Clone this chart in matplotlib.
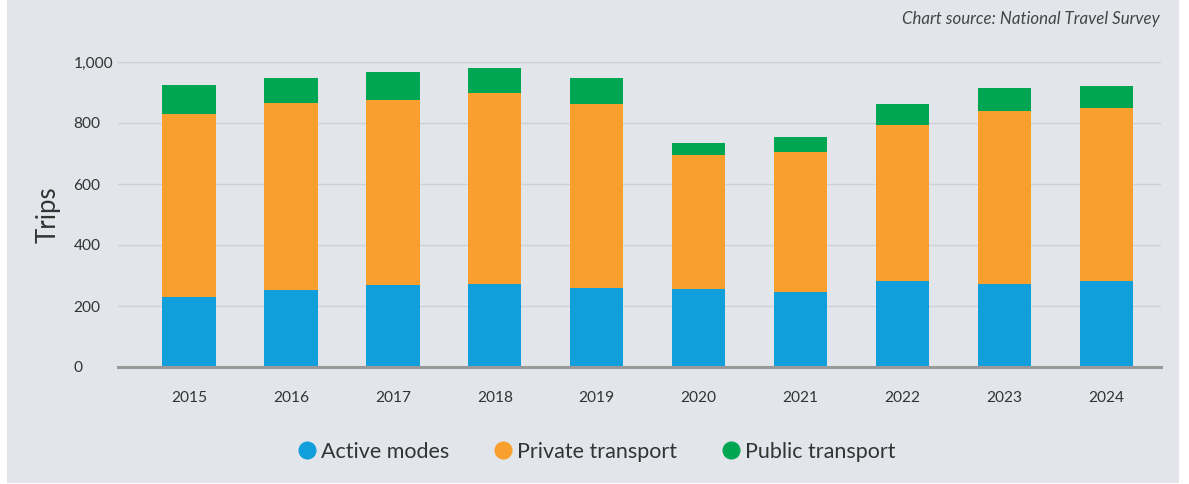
import matplotlib.pyplot as plt
from matplotlib.patches import Rectangle
from matplotlib.lines import Line2D

plt.rcParams['font.family'] = ['Lato', 'DejaVu Sans']

years = ['2015', '2016', '2017', '2018', '2019', '2020', '2021', '2022', '2023', '2024']
active = [230, 254, 269, 272, 260, 256, 246, 283, 272, 283]
private = [600, 612, 607, 627, 603, 440, 460, 511, 568, 567]
public = [95, 82, 92, 82, 85, 39, 49, 69, 76, 72]

series = ['Active modes', 'Private transport', 'Public transport']
colors = ['#109fdb', '#f89f2d', '#00a651']
bg = '#e2e6ea'
text_col = '#333333'

W, H = 1189, 484
fig = plt.figure(figsize=(W / 100, H / 100), dpi=100, facecolor='white')
fig.patches.append(Rectangle((7 / W, 1 / H), (1179 - 7) / W, 1 - 1 / H,
                             transform=fig.transFigure, facecolor=bg,
                             edgecolor='none', zorder=-10))

ax = fig.add_axes([118 / W, (H - 367) / H, (1161 - 118) / W, (367 - 62) / H])
ax.set_zorder(1)
ax.patch.set_alpha(0)

x = list(range(len(years)))
bottom2 = [a + p for a, p in zip(active, private)]
ax.bar(x, active, width=0.524, color=colors[0], zorder=3)
ax.bar(x, private, width=0.524, bottom=active, color=colors[1], zorder=3)
ax.bar(x, public, width=0.524, bottom=bottom2, color=colors[2], zorder=3)

ax.set_xlim(-0.697, 9.537)
ax.set_ylim(0, 1000)
ax.set_yticks([0, 200, 400, 600, 800, 1000])
ax.set_yticklabels(['0', '200', '400', '600', '800', '1,000'])
ax.set_xticks(x)
ax.set_xticklabels(years)

ax.grid(axis='y', color='#cdd1d6', linewidth=1, zorder=1)
for s in ['top', 'right', 'left']:
    ax.spines[s].set_visible(False)
ax.spines['bottom'].set_color('#999999')
ax.spines['bottom'].set_linewidth(2.2)
ax.spines['bottom'].set_zorder(4)

ax.tick_params(axis='both', length=0, labelsize=11.2, labelcolor=text_col)
ax.tick_params(axis='x', pad=17)
ax.tick_params(axis='y', pad=32)
for lbl in ax.get_yticklabels():
    lbl.set_horizontalalignment('left')

ax.set_ylabel('Trips', fontsize=18.5, color=text_col, labelpad=9)

fig.text(1160 / W, (H - 19) / H, 'Chart source: National Travel Survey',
         ha='right', va='center', fontsize=12.2, style='italic', color='#444444')

handles = [Line2D([], [], marker='o', linestyle='none', markersize=12,
                  markerfacecolor=c, markeredgecolor=c) for c in colors]
fig.legend(handles, series, loc='center', bbox_to_anchor=(596 / W, (H - 452) / H),
           ncol=3, frameon=False, fontsize=15.5, handletextpad=0.15,
           columnspacing=2.0, labelcolor=text_col, handlelength=1.0)

fig.savefig('out.png', dpi=100, facecolor='white')
